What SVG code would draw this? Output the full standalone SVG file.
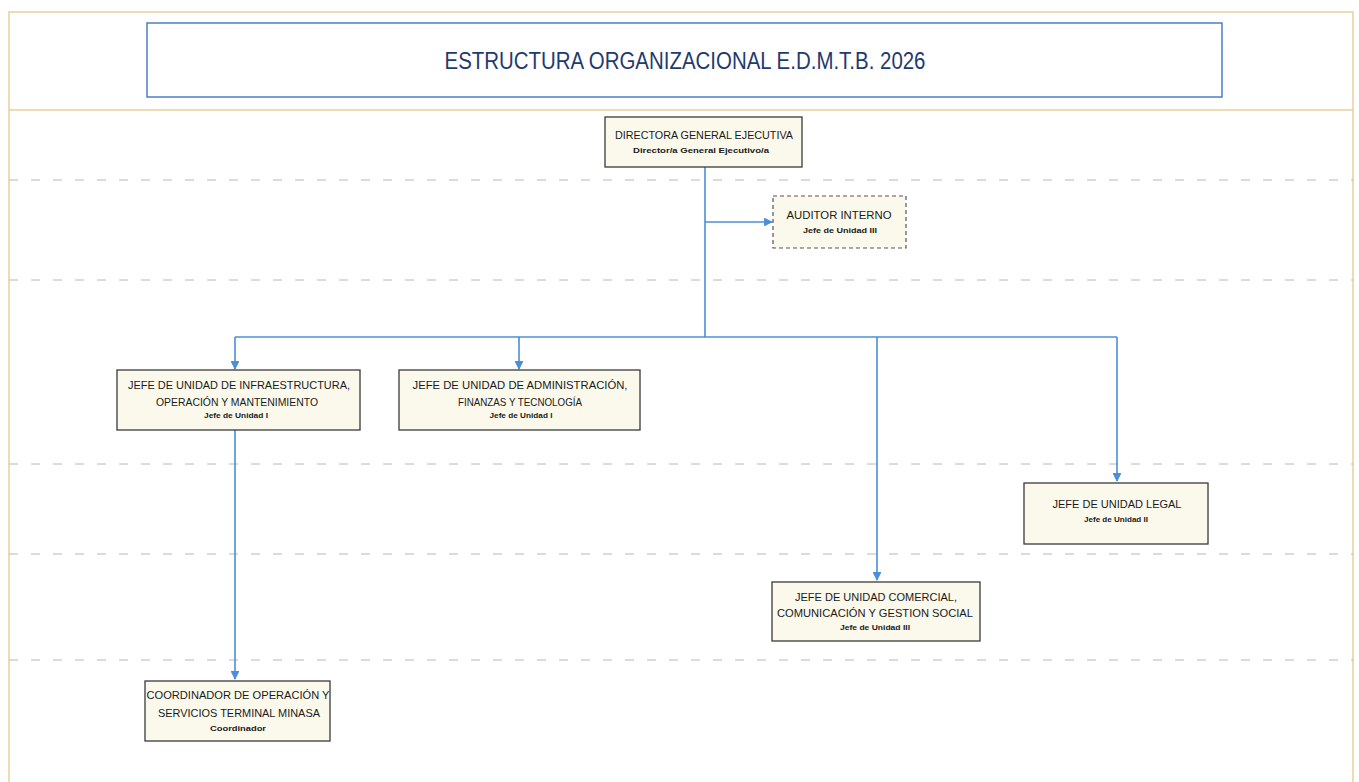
<svg xmlns="http://www.w3.org/2000/svg" width="1359" height="782" viewBox="0 0 1359 782">
<style>
.frame{fill:none;stroke:#e6cf9c;stroke-width:1.5}
.sep{stroke:#b8b8b8;stroke-width:1;stroke-dasharray:9 13;fill:none}
.box{fill:#fbf9ec;stroke:#3a3a3a;stroke-width:1.3}
.dbox{fill:#fbf9ec;stroke:#555;stroke-width:1.2;stroke-dasharray:4 3}
.conn{stroke:#4a8fd8;stroke-width:1.6;fill:none}
.t1{font-family:"Liberation Sans",Arial,sans-serif;font-size:11px;fill:#1a1a1a;text-anchor:middle}
.t2{font-family:"Liberation Sans",Arial,sans-serif;font-size:8px;font-weight:bold;fill:#1a1a1a;text-anchor:middle}
.title{font-family:"Liberation Sans",Arial,sans-serif;font-size:23px;fill:#1f3a6e;text-anchor:middle}
</style>
<defs>
<marker id="arr" viewBox="0 0 10 10" refX="9" refY="5" markerWidth="5.5" markerHeight="5.5" orient="auto" markerUnits="strokeWidth">
<path d="M0,0 L10,5 L0,10 z" fill="#4a8fd8"/>
</marker>
</defs>
<rect width="1359" height="782" fill="#ffffff"/>
<g id="frame">
<path class="frame" d="M9,782 V12 H1353 V782"/>
<line class="frame" x1="9" y1="110" x2="1353" y2="110"/>
<line class="sep" x1="9" y1="180" x2="1353" y2="180"/>
<line class="sep" x1="9" y1="280" x2="1353" y2="280"/>
<line class="sep" x1="9" y1="464" x2="1353" y2="464"/>
<line class="sep" x1="9" y1="554" x2="1353" y2="554"/>
<line class="sep" x1="9" y1="660" x2="1353" y2="660"/>
</g>
<g id="title">
<rect x="147" y="23" width="1075" height="74" fill="#ffffff" stroke="#4a7fc4" stroke-width="1.5"/>
<text class="title" x="685" y="69" textLength="481" lengthAdjust="spacingAndGlyphs">ESTRUCTURA ORGANIZACIONAL E.D.M.T.B. 2026</text>
</g>
<g id="connectors">
<line class="conn" x1="705" y1="167" x2="705" y2="337"/>
<line class="conn" x1="705" y1="222" x2="772" y2="222" marker-end="url(#arr)"/>
<line class="conn" x1="235" y1="337" x2="1117" y2="337"/>
<line class="conn" x1="235" y1="337" x2="235" y2="369" marker-end="url(#arr)"/>
<line class="conn" x1="519" y1="337" x2="519" y2="369" marker-end="url(#arr)"/>
<line class="conn" x1="877" y1="337" x2="877" y2="580" marker-end="url(#arr)"/>
<line class="conn" x1="1117" y1="337" x2="1117" y2="481" marker-end="url(#arr)"/>
<line class="conn" x1="235" y1="430" x2="235" y2="679" marker-end="url(#arr)"/>
</g>
<g id="director">
<rect class="box" x="605" y="117" width="197" height="50"/>
<text class="t1" x="704" y="139" textLength="178" lengthAdjust="spacingAndGlyphs">DIRECTORA GENERAL EJECUTIVA</text>
<text class="t2" x="701" y="153" textLength="136" lengthAdjust="spacingAndGlyphs">Director/a  General Ejecutivo/a</text>
</g>
<g id="auditor">
<rect class="dbox" x="773" y="196" width="133" height="52"/>
<text class="t1" x="839" y="219" textLength="105" lengthAdjust="spacingAndGlyphs">AUDITOR INTERNO</text>
<text class="t2" x="840" y="233" textLength="74" lengthAdjust="spacingAndGlyphs">Jefe de Unidad III</text>
</g>
<g id="infraestructura">
<rect class="box" x="117" y="370" width="243" height="60"/>
<text class="t1" x="239" y="389" textLength="222" lengthAdjust="spacingAndGlyphs">JEFE DE UNIDAD DE INFRAESTRUCTURA,</text>
<text class="t1" x="237" y="406" textLength="162" lengthAdjust="spacingAndGlyphs">OPERACIÓN Y MANTENIMIENTO</text>
<text class="t2" x="236" y="418" textLength="64" lengthAdjust="spacingAndGlyphs">Jefe de Unidad I</text>
</g>
<g id="administracion">
<rect class="box" x="399" y="370" width="241" height="60"/>
<text class="t1" x="520" y="389" textLength="215" lengthAdjust="spacingAndGlyphs">JEFE DE UNIDAD DE ADMINISTRACIÓN,</text>
<text class="t1" x="520" y="406" textLength="124" lengthAdjust="spacingAndGlyphs">FINANZAS Y TECNOLOGÍA</text>
<text class="t2" x="521" y="418" textLength="63" lengthAdjust="spacingAndGlyphs">Jefe de Unidad I</text>
</g>
<g id="legal">
<rect class="box" x="1024" y="483" width="184" height="61"/>
<text class="t1" x="1117" y="508" textLength="129" lengthAdjust="spacingAndGlyphs">JEFE DE UNIDAD LEGAL</text>
<text class="t2" x="1116" y="522" textLength="64" lengthAdjust="spacingAndGlyphs">Jefe de Unidad II</text>
</g>
<g id="comercial">
<rect class="box" x="772" y="582" width="208" height="59"/>
<text class="t1" x="876" y="601" textLength="162" lengthAdjust="spacingAndGlyphs">JEFE DE UNIDAD COMERCIAL,</text>
<text class="t1" x="875" y="617" textLength="196" lengthAdjust="spacingAndGlyphs">COMUNICACIÓN Y GESTION SOCIAL</text>
<text class="t2" x="875" y="630" textLength="70" lengthAdjust="spacingAndGlyphs">Jefe de Unidad III</text>
</g>
<g id="coordinador">
<rect class="box" x="145" y="681" width="185" height="60"/>
<text class="t1" x="238" y="699" textLength="183" lengthAdjust="spacingAndGlyphs">COORDINADOR DE OPERACIÓN Y</text>
<text class="t1" x="239" y="717" textLength="162" lengthAdjust="spacingAndGlyphs">SERVICIOS  TERMINAL MINASA</text>
<text class="t2" x="238" y="731" textLength="56" lengthAdjust="spacingAndGlyphs">Coordinador</text>
</g>
</svg>
